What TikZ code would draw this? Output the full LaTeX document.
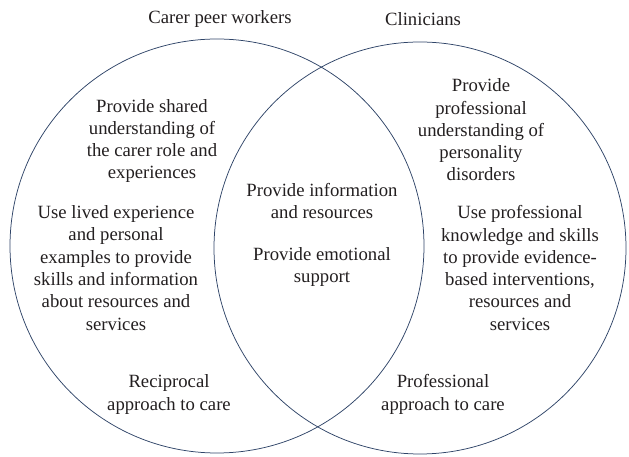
\documentclass[tikz,border=0pt]{standalone}
\usepackage{fontspec}
\setmainfont{Liberation Serif}
\usepackage{xcolor}
\usepackage{tikz}
\usetikzlibrary{positioning}
\definecolor{ringblue}{HTML}{2F4468}
\definecolor{inkgray}{HTML}{231F20}
\tikzset{ring/.style={draw=ringblue, circle, line width=0.75pt, inner sep=0pt}}
\tikzset{txt/.style={align=center, text=inkgray, inner sep=0pt, font=\fontsize{18.7}{22.3}\selectfont}}

\begin{document}
\begin{tikzpicture}[x=1pt, y=1pt]
		\useasboundingbox (0,0) rectangle (629,457);
		% the two groups
		\node[ring, minimum size=414pt] (carer) at (217,211) {};
		\node[ring, minimum size=412pt] (clin) at (420,209) {};
		
		\node[txt] (carerlbl) at (220,438) {Carer peer workers};
		\node[txt] (clinlbl) at (423,438) {Clinicians};
		
		% carer peer workers only
		\node[txt] (shared) at (152,316) {Provide shared\\understanding of\\the carer role and\\experiences};
		\node[txt] (lived) at (116,189) {Use lived experience\\and personal\\examples to provide\\skills and information\\about resources and\\services};
		\node[txt] (recip) at (169,62.5) {Reciprocal\\approach to care};
		
		% both
		\node[txt] (info) at (322,256) {Provide information\\and resources};
		\node[txt] (emot) at (322,190) {Provide emotional\\support};
		
		% clinicians only
		\node[txt] (profund) at (481,327) {Provide\\professional\\understanding of\\personality\\disorders};
		\node[txt] (skills) at (520,189) {Use professional\\knowledge and skills\\to provide evidence-\\based interventions,\\resources and\\services};
		\node[txt] (profcare) at (443,62.5) {Professional\\approach to care};
	\end{tikzpicture}
\end{document}
